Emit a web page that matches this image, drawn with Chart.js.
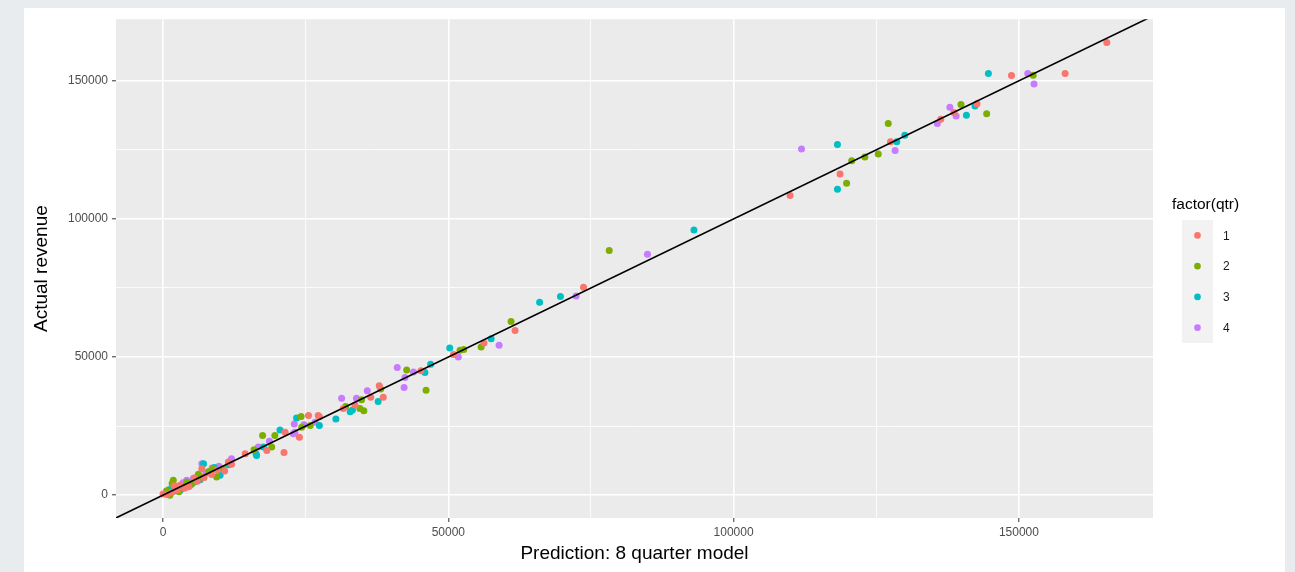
<!DOCTYPE html>
<html>
<head>
<meta charset="utf-8">
<script src="https://cdn.jsdelivr.net/npm/chart.js@4/dist/chart.umd.min.js"></script>
<style>
  html, body { margin: 0; padding: 0; }
  body { width: 1295px; height: 572px; background: #e8ecee; position: relative; overflow: hidden; }
  #card { position: absolute; left: 24px; top: 8px; width: 1261px; height: 564px; background: #ffffff; }
</style>
</head>
<body>
<div id="card"><canvas id="chart" width="1261" height="564"></canvas></div>
<script>
// prediction vs actual, one list of [prediction, actual] per quarter
const qtr1 = [
  [165400, 163900], [148700, 151900], [158100, 152600], [136300, 136100], [138600, 138500],
  [142650, 141700], [127500, 127900], [118650, 116300], [109900, 108500], [73700, 75300],
  [61700, 59600], [56250, 55100], [50900, 50900], [45200, 45000], [37900, 39600],
  [38600, 35400], [36400, 35400], [33650, 32600], [31600, 31400], [27200, 28800],
  [27400, 28400], [25500, 28800], [23900, 21000], [21400, 22800], [21200, 15400],
  [18200, 16200], [14400, 15000], [11450, 12000], [12000, 11200], [6800, 9600],
  [3000, 3600], [0, 400], [4500, 3000], [8500, 7500], [1500, 1000], [2500, 2000],
  [9500, 9000], [6000, 5000], [5500, 6200], [700, 200], [3800, 2600], [7200, 6400],
  [10800, 8700], [2000, 3400]
];
const qtr2 = [
  [152500, 152000], [144350, 138100], [139850, 141400], [127100, 134500], [125350, 123500],
  [123000, 122400], [120700, 121100], [119800, 112900], [78200, 88600], [61000, 62900],
  [55750, 53600], [52050, 52500], [52700, 52700], [42700, 45300], [46100, 38000],
  [38150, 38400], [34800, 34500], [32000, 32100], [35200, 30600], [34500, 31400],
  [24200, 28500], [25800, 25200], [24300, 24600], [19600, 21600], [17450, 21600],
  [19050, 17400], [15950, 16400], [8800, 9600], [9400, 6600], [1800, 5400], [1200, 0],
  [3500, 2500], [5000, 4000], [7000, 6500], [2200, 3200], [10500, 9500], [600, 1500],
  [1600, 4200], [2800, 1200], [4200, 4800], [6200, 7600], [8000, 8600]
];
const qtr3 = [
  [144650, 152600], [130000, 130300], [128600, 127900], [140800, 137500], [142300, 140900],
  [118200, 126900], [118200, 110700], [93050, 96000], [69650, 71900], [66000, 69800],
  [57500, 56600], [50250, 53300], [46900, 47400], [45900, 44400], [37700, 33900],
  [32800, 30200], [33200, 30800], [30300, 27600], [27400, 25200], [23400, 27900],
  [20500, 23600], [17600, 17400], [16400, 14400], [16300, 15000], [10000, 7200],
  [8200, 8400], [7100, 11400], [2000, 1500], [4000, 3500], [5500, 4800], [9000, 10000],
  [1000, 2000], [3000, 1800], [2600, 2900], [6500, 5600], [11500, 11000]
];
const qtr4 = [
  [151550, 152600], [152650, 148800], [137900, 140400], [135700, 134500], [139000, 137300],
  [128300, 124800], [111900, 125300], [84900, 87200], [72400, 72100], [58900, 54300],
  [51750, 50000], [41050, 46200], [43900, 44600], [42400, 42600], [42250, 39000],
  [35800, 37800], [33900, 35100], [31300, 35100], [26650, 26400], [24700, 25500],
  [23000, 25800], [23100, 22800], [22850, 22200], [18650, 19500], [16700, 17400],
  [12000, 13200], [11700, 12000], [6800, 11400], [5300, 6000], [4150, 5400],
  [2500, 3000], [7500, 8000], [3500, 4500], [9800, 10500], [1500, 2500],
  [4800, 3600], [6100, 7000], [8600, 9800]
];

const qtrLabels = ['1', '2', '3', '4'];
const qtrColors = ['#F8766D', '#7CAE00', '#00BFC4', '#C77CFF'];
const majorTicks = [0, 50000, 100000, 150000];
const gridTicks = [0, 25000, 50000, 75000, 100000, 125000, 150000];
const xRange = [-8240, 173500];
const yRange = [-8270, 172300];
// y = x reference line, clipped to the panel
const refLine = [[-20000, -20000], [200000, 200000]];

const toPts = arr => arr.map(p => ({ x: p[0], y: p[1] }));

const panelBg = {
  id: 'panelBg',
  beforeDraw(chart) {
    const { ctx, chartArea: a } = chart;
    ctx.save();
    ctx.fillStyle = '#EBEBEB';
    ctx.fillRect(a.left, a.top, a.right - a.left, a.bottom - a.top);
    ctx.restore();
  }
};

// ggplot style legend: title, grey key boxes, dots and labels
const ggLegend = {
  id: 'ggLegend',
  afterDraw(chart) {
    const { ctx, chartArea: a } = chart;
    const keyLeft = a.right + 29, keyTop = 212, keyW = 31, keyH = 30.75;
    ctx.save();
    ctx.fillStyle = '#000000';
    ctx.font = "15.5px 'Liberation Sans', Arial, sans-serif";
    ctx.textBaseline = 'middle';
    ctx.textAlign = 'left';
    ctx.fillText('factor(qtr)', a.right + 19, 197);
    ctx.fillStyle = '#F2F2F2';
    ctx.fillRect(keyLeft, keyTop, keyW, keyH * qtrLabels.length);
    qtrLabels.forEach((lab, i) => {
      const cy = keyTop + keyH * i + keyH / 2;
      ctx.beginPath();
      ctx.arc(keyLeft + keyW / 2, cy, 3.3, 0, Math.PI * 2);
      ctx.fillStyle = qtrColors[i];
      ctx.fill();
      ctx.fillStyle = '#1A1A1A';
      ctx.font = "12px 'Liberation Sans', Arial, sans-serif";
      ctx.fillText(lab, keyLeft + keyW + 10, cy + 1);
    });
    ctx.restore();
  }
};

function axisOpts(range, title, titlePad, fixedSize, isX) {
  return {
    type: 'linear',
    min: range[0],
    max: range[1],
    afterBuildTicks: scale => { scale.ticks = gridTicks.map(v => ({ value: v })); },
    afterFit: scale => { if (isX) scale.height = fixedSize; else scale.width = fixedSize; },
    border: { display: false },
    grid: {
      color: '#FFFFFF',
      lineWidth: c => majorTicks.includes(c.tick && c.tick.value) ? 1.6 : 0.8,
      drawTicks: true,
      tickLength: 4,
      tickWidth: 1,
      tickColor: c => majorTicks.includes(c.tick && c.tick.value) ? '#333333' : 'rgba(0,0,0,0)'
    },
    ticks: {
      color: '#4D4D4D',
      font: { size: 12 },
      padding: isX ? 3 : 4,
      maxRotation: 0,
      autoSkip: false,
      callback: v => majorTicks.includes(v) ? String(v) : ''
    },
    title: {
      display: true,
      text: title,
      color: '#000000',
      font: { size: 19 },
      padding: titlePad
    }
  };
}

Chart.defaults.font.family = "'Liberation Sans', Arial, sans-serif";

const datasets = [
  {
    type: 'line',
    label: 'y = x',
    data: toPts(refLine),
    borderColor: '#000000',
    borderWidth: 1.6,
    pointRadius: 0,
    order: 0
  }
].concat([qtr1, qtr2, qtr3, qtr4].map((arr, i) => ({
  type: 'scatter',
  label: qtrLabels[i],
  data: toPts(arr),
  backgroundColor: qtrColors[i],
  borderColor: qtrColors[i],
  borderWidth: 0,
  pointRadius: 3.5,
  order: 1
})));

new Chart(document.getElementById('chart'), {
  type: 'scatter',
  data: { datasets },
  options: {
    responsive: false,
    animation: false,
    layout: { padding: { top: 9, right: 132, left: 0, bottom: 0 } },
    scales: {
      x: axisOpts(xRange, 'Prediction: 8 quarter model', { top: 0, bottom: 7 }, 54, true),
      y: axisOpts(yRange, 'Actual revenue', { top: 6, bottom: 0 }, 92, false)
    },
    plugins: {
      legend: { display: false },
      tooltip: { enabled: false }
    }
  },
  plugins: [panelBg, ggLegend]
});
</script>
</body>
</html>
